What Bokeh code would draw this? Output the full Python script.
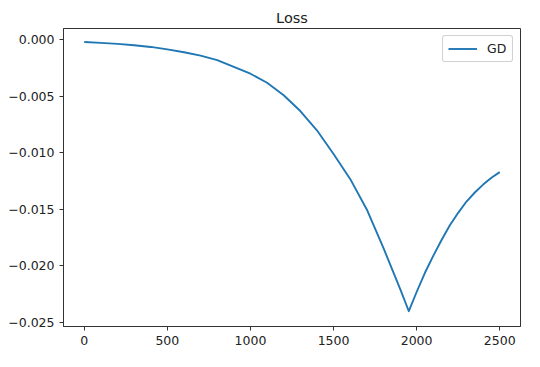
from bokeh.plotting import figure
from bokeh.models import FixedTicker, CustomJSTickFormatter, Range1d, Legend, LegendItem
from bokeh.embed import file_html
from bokeh.resources import INLINE

# Data
steps = [0, 100, 200, 300, 400, 500, 600, 700, 800, 900, 1000, 1100, 1200, 1300, 1400,
         1500, 1600, 1700, 1800, 1900, 1953,
         2000, 2050, 2100, 2150, 2200, 2250, 2300, 2350, 2400, 2450, 2500]
loss = [-0.0002, -0.00027, -0.00036, -0.00048, -0.00063, -0.00085, -0.0011, -0.0014,
        -0.0018, -0.0024, -0.0030, -0.0038, -0.0049, -0.0063, -0.0080,
        -0.0101, -0.0123, -0.0150, -0.0184, -0.0220, -0.0240,
        -0.0223, -0.0206, -0.0191, -0.0177, -0.0164, -0.0153, -0.0143, -0.0135,
        -0.0128, -0.0122, -0.0117]
x_ticks = [0, 500, 1000, 1500, 2000, 2500]
y_ticks = [0.0, -0.005, -0.010, -0.015, -0.020, -0.025]
series_name = "GD"
title_text = "Loss"

FONT = "DejaVu Sans"
TXT = "#222222"

p = figure(width=524, height=351, output_backend="svg", toolbar_location=None,
           x_range=Range1d(-125, 2625), y_range=Range1d(-0.02535, 0.0010),
           min_border_left=63, min_border_right=4, min_border_top=28, min_border_bottom=25)

p.title.text = title_text
p.title.align = "center"
p.title.text_font = FONT
p.title.text_font_size = "14.5px"
p.title.text_font_style = "normal"
p.title.text_color = TXT
p.title.offset = 0
p.title.standoff = 6

r = p.line(steps, loss, line_color="#1f77b4", line_width=1.9, line_join="round")

p.xgrid.visible = False
p.ygrid.visible = False
p.outline_line_color = "#333333"
p.outline_line_width = 1
p.background_fill_color = "white"
p.border_fill_color = "white"

for ax in (p.xaxis[0], p.yaxis[0]):
    ax.axis_line_color = "#333333"
    ax.major_tick_line_color = "#333333"
    ax.major_tick_out = 4
    ax.major_tick_in = 0
    ax.minor_tick_line_color = None
    ax.major_label_text_font = FONT
    ax.major_label_text_font_size = "12.5px"
    ax.major_label_text_color = TXT
    ax.major_label_standoff = 5

p.xaxis[0].ticker = FixedTicker(ticks=x_ticks)
p.yaxis[0].ticker = FixedTicker(ticks=y_ticks)
p.yaxis[0].formatter = CustomJSTickFormatter(code="""
    if (Math.abs(tick) < 1e-12) { return '0.000'; }
    return tick.toFixed(3).replace('-', '\u2212');
""")

legend = Legend(items=[LegendItem(label=series_name, renderers=[r])],
                location="top_right", margin=7, padding=5, spacing=0,
                glyph_width=29, glyph_height=15, label_standoff=10,
                label_height=15,
                label_text_font=FONT, label_text_font_size="12.5px", label_text_color=TXT,
                border_line_color="#cccccc", border_line_alpha=0.9, border_radius=3,
                background_fill_alpha=0.8)
p.add_layout(legend)

open("out.html", "w").write(file_html(p, INLINE))
